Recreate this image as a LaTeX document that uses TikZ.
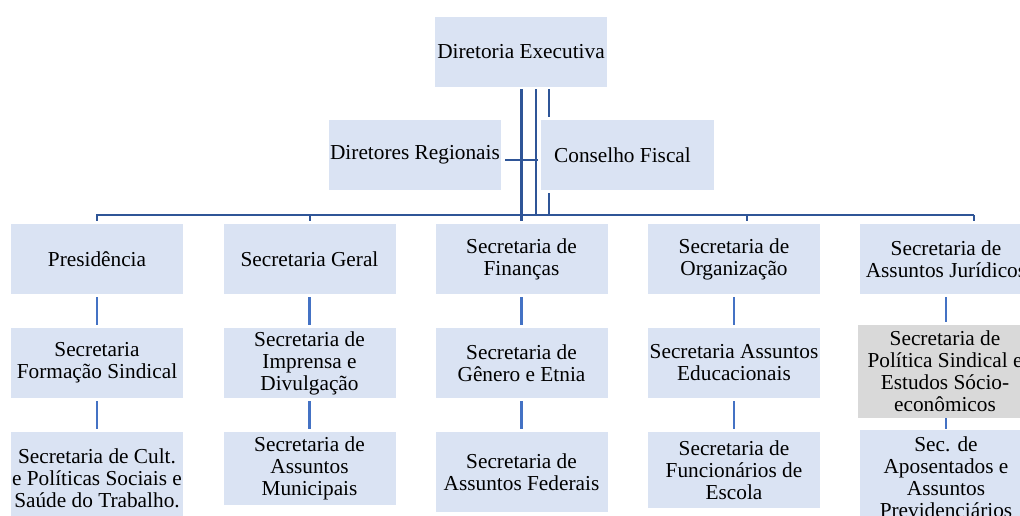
\documentclass[tikz,border=0pt]{standalone}
\usepackage{fontspec}
\setmainfont{Liberation Serif}
\usetikzlibrary{calc}
\definecolor{boxblue}{HTML}{DAE3F3}
\definecolor{boxgray}{HTML}{D9D9D9}
\definecolor{linkblue}{HTML}{4472C4}
\definecolor{busblue}{HTML}{2F5597}

\begin{document}
\begin{tikzpicture}[x=1pt,y=-1pt,
  unit/.style={rectangle, fill=boxblue, minimum width=172pt, minimum height=70pt,
    inner sep=0pt, align=center, font=\fontsize{21.3}{22}\selectfont},
  bus/.style={draw=busblue, line width=2pt},
  link/.style={draw=linkblue, line width=2.2pt, shorten <=3pt, shorten >=3pt}]
  \useasboundingbox (0,0) rectangle (1020,515);

  % Top of the chart
  \node[unit] (dirEx) at (521,52) {Diretoria Executiva};
  \node[unit] (dirReg) at (415,155) {Diretores Regionais};
  \node[unit, minimum width=173pt] (conFis) at (627.5,155) {Conselho Fiscal\hspace*{10pt}};

  % Secretarias, first row
  \node[unit] (pres) at (97,259) {Presidência};
  \node[unit] (secGer) at (309.5,259) {Secretaria Geral};
  \node[unit] (secFin) at (521.5,259) {Secretaria de\\Finanças};
  \node[unit] (secOrg) at (734,259) {Secretaria de\\Organização};
  \node[unit] (secJur) at (946,259) {Secretaria de\\Assuntos Jurídicos};

  % Second row
  \node[unit] (formSind) at (97,363) {Secretaria\\Formação Sindical};
  \node[unit] (imprensa) at (309.5,363) {Secretaria de\\Imprensa e\\Divulgação};
  \node[unit] (genero) at (521.5,363) {Secretaria de\\Gênero e Etnia};
  \node[unit] (educ) at (734,363) {Secretaria Assuntos\\Educacionais};
  \node[unit, fill=boxgray, minimum width=174pt, minimum height=93pt] (polSind) at (945,371.5)
    {Secretaria de\\Política Sindical e\\Estudos Sócio-\\econômicos};

  % Third row
  \node[unit, minimum height=92pt] (cultura) at (97,478)
    {Secretaria de Cult.\\e Políticas Sociais e\\Saúde do Trabalho.};
  \node[unit, minimum height=73pt] (municip) at (309.5,468.5) {Secretaria de\\Assuntos\\Municipais};
  \node[unit, minimum height=80pt] (federais) at (521.5,472) {Secretaria de\\Assuntos Federais};
  \node[unit, minimum height=76pt] (funcion) at (734,470) {Secretaria de\\Funcionários de\\Escola};
  \node[unit, minimum height=94pt] (aposent) at (946,477)
    {Sec. de\\Aposentados e\\Assuntos\\Previdenciários};

  % Lines from the Diretoria
  \coordinate (busL) at (96,215);
  \coordinate (busR) at (974,215);
  \draw[bus, line width=3.5pt] ($(dirEx.south)+(0.5,2)$) -- ($(dirEx.south |- busL)+(0.5,6)$);
  \draw[bus] ($(dirEx.south)+(14.5,2)$) -- ($(dirEx.south |- busL)+(14.5,0)$);
  \draw[bus] ($(dirEx.south)+(28,2)$) -- ($(dirEx.south |- conFis.north)+(28,-3)$);
  \draw[bus] ($(dirEx.south |- conFis.south)+(28,3)$) -- ($(dirEx.south |- busL)+(28,0)$);
  \draw[bus] ($(dirReg.east)+(4,5)$) -- ($(dirEx.south |- dirReg.east)+(17,5)$);
  \draw[bus] (busL) -- (busR);
  \draw[bus] (pres.north |- busL) -- ++(0,6);
  \draw[bus] (secGer.north |- busL) -- ++(0,6);
  \draw[bus] ($(secOrg.north |- busL)+(13,0)$) -- ++(0,6);
  \draw[bus] (busR) -- ++(0,6);

  % Lines down each column
  \draw[link] (pres) -- (formSind);
  \draw[link] (formSind) -- (cultura);
  \draw[link] (secGer) -- (imprensa);
  \draw[link] (imprensa) -- (municip);
  \draw[link] (secFin) -- (genero);
  \draw[link] (genero) -- (federais);
  \draw[link] (secOrg) -- (educ);
  \draw[link] (educ) -- (funcion);
  \draw[link] (secJur.south) -- (secJur.south |- polSind.north);
  \draw[link, shorten <=0pt, shorten >=1pt] (polSind.south -| aposent.north) -- (aposent.north);
\end{tikzpicture}
\end{document}
